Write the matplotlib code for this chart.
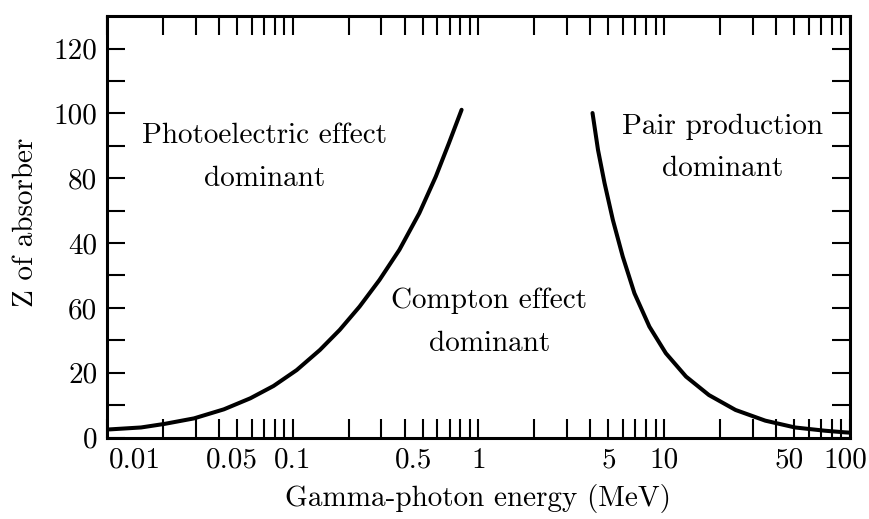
import matplotlib
matplotlib.use("Agg")
import matplotlib.pyplot as plt
import matplotlib.transforms as mtransforms
from matplotlib.ticker import NullFormatter

plt.rcParams["font.family"] = "cmr10"
plt.rcParams["mathtext.fontset"] = "cm"
plt.rcParams["axes.formatter.use_mathtext"] = True

# photoelectric / Compton boundary (energy in MeV, Z)
pe_energy = [0.0103, 0.01525, 0.0204, 0.0294, 0.0426, 0.0591, 0.0788, 0.105,
             0.140, 0.179, 0.229, 0.293, 0.375, 0.480, 0.589, 0.693, 0.811]
pe_z = [2.5, 3.1, 4.2, 5.9, 8.7, 12.1, 15.9, 20.8,
        27.0, 33.2, 40.4, 48.6, 57.9, 69.2, 80.5, 90.8, 101.1]

# Compton / pair production boundary
pp_energy = [4.11, 4.40, 4.77, 5.29, 5.98, 6.91, 8.32, 10.2,
             13.1, 17.4, 24.2, 35.0, 50.6, 73.2, 93.7, 100.0]
pp_z = [100.1, 88.7, 78.5, 67.1, 55.8, 44.5, 34.2, 26.0,
        18.8, 13.1, 8.5, 5.2, 3.1, 2.1, 1.6, 1.5]

xtick_major = [0.01, 0.05, 0.1, 0.5, 1, 5, 10, 50, 100]
xtick_labels = ["0.01", "0.05", "0.1", "0.5", "1", "5", "10", "50", "100"]
xtick_minor = [0.02, 0.03, 0.04, 0.06, 0.07, 0.08, 0.09,
               0.2, 0.3, 0.4, 0.6, 0.7, 0.8, 0.9,
               2, 3, 4, 6, 7, 8, 9,
               20, 30, 40, 60, 70, 80, 90]
ytick_major = [0, 20, 40, 60, 80, 100, 120]
ytick_labels = ["0", "20", "60", "40", "80", "100", "120"]
ytick_minor = [10, 30, 50, 70, 90, 110]

FS = 21

fig = plt.figure(figsize=(8.7, 5.19), dpi=100)
ax = fig.add_axes([0.123, 0.157, 0.854, 0.812])

for xs, ys in [(pe_energy, pe_z), (pp_energy, pp_z)]:
    ax.plot(xs, ys, color="black", lw=2.9, solid_capstyle="round",
            solid_joinstyle="round")

ax.set_xscale("log")
ax.set_xlim(0.0103, 100)
ax.set_ylim(0, 130)

ax.set_xticks(xtick_major)
ax.set_xticklabels(xtick_labels)
ax.set_xticks(xtick_minor, minor=True)
ax.xaxis.set_minor_formatter(NullFormatter())
ax.set_yticks(ytick_major)
ax.set_yticklabels(ytick_labels)
ax.set_yticks(ytick_minor, minor=True)

ax.tick_params(axis="x", which="both", direction="in", top=True, bottom=True,
               length=14, width=1.5, labelsize=FS, pad=7)
ax.tick_params(axis="y", which="both", direction="in", left=True, right=True,
               length=13, width=1.5, labelsize=FS, pad=7)
for s in ax.spines.values():
    s.set_linewidth(2.2)

# nudge a few tick labels sideways
shifts = {"0.01": 28, "0.05": -5, "0.5": -9, "50": -5, "100": -5}
for lab in ax.get_xticklabels():
    dx = shifts.get(lab.get_text(), 0)
    if dx:
        lab.set_transform(lab.get_transform() +
                          mtransforms.ScaledTranslation(dx / 100, 0, fig.dpi_scale_trans))

ax.set_xlabel("Gamma-photon energy (MeV)", fontsize=FS)
ax.set_ylabel("Z of absorber", fontsize=FS)
ax.xaxis.set_label_coords(0.4993, -0.11)
ax.yaxis.set_label_coords(-0.092, 0.511)

ax.text(0.0707, 86.4, "Photoelectric effect\ndominant", ha="center", va="center",
        fontsize=FS, linespacing=1.8)
ax.text(1.146, 35.5, "Compton effect\ndominant", ha="center", va="center",
        fontsize=FS, linespacing=1.8)
ax.text(20.5, 89.4, "Pair production\ndominant", ha="center", va="center",
        fontsize=FS, linespacing=1.8)

fig.savefig("out.png", dpi=100)
